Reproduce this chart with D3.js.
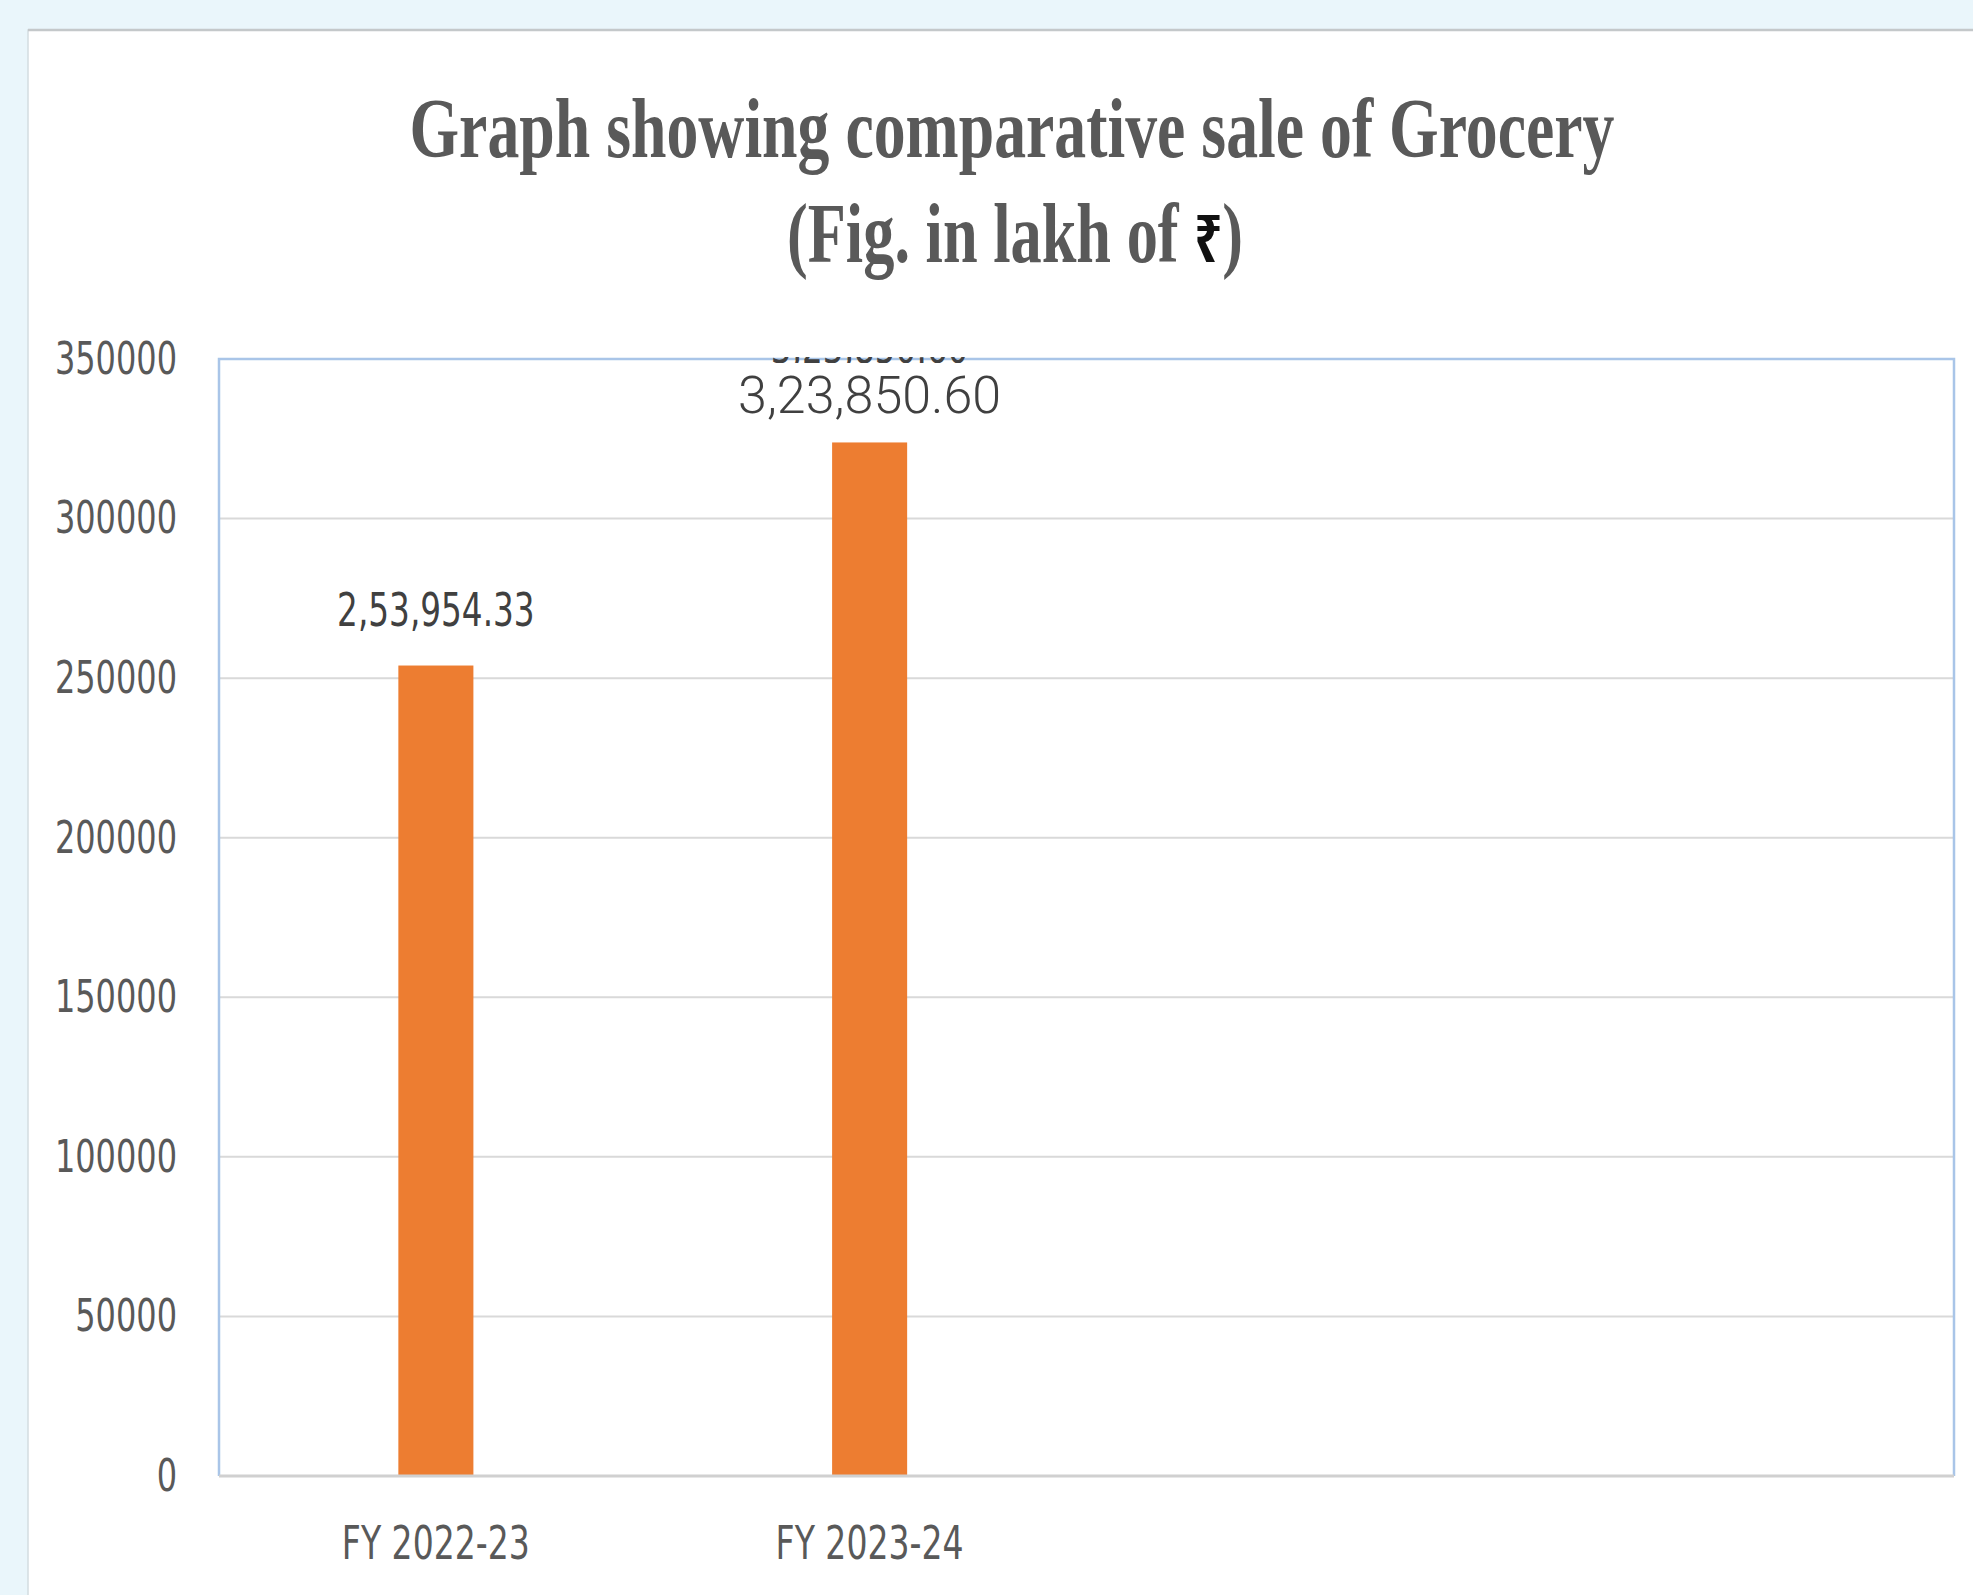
<!DOCTYPE html>
<html>
<head>
<meta charset="utf-8">
<script src="https://cdn.jsdelivr.net/npm/d3@7"></script>
<style>
  html, body { margin: 0; padding: 0; background: #eaf6fb; }
  svg { display: block; }
</style>
</head>
<body>
<svg id="chart" width="1973" height="1595"></svg>
<script>
// ---- data ----
const categories = ["FY 2022-23", "FY 2023-24"];
const sales = [253954.33, 323850.60];          // lakh of ₹
const yTicks = [0, 50000, 100000, 150000, 200000, 250000, 300000, 350000];
const slotCount = 4;                            // category slots on the x axis (two are unused)
const titleLines = ["Graph showing comparative sale of Grocery", "(Fig. in lakh of ", "₹", ")"];

// ---- layout ----
const W = 1973, H = 1595;
const plot = { left: 219, right: 1954, top: 359, bottom: 1476 };
const narrow = "'Liberation Sans Narrow', 'Arial Narrow', 'DejaVu Sans Condensed', sans-serif";

// Indian digit grouping, two decimals: 253954.33 -> 2,53,954.33
function inr(v) {
  const [ip, fp] = v.toFixed(2).split(".");
  let last3 = ip.slice(-3), rest = ip.slice(0, -3);
  if (rest) rest = rest.replace(/\B(?=(\d{2})+(?!\d))/g, ",") + ",";
  return rest + last3 + "." + fp;
}

// horizontally condense text to a fraction of its natural width
function squeeze(sel, factor) {
  sel.each(function () {
    const len = this.getComputedTextLength();
    d3.select(this).attr("textLength", len * factor).attr("lengthAdjust", "spacingAndGlyphs");
  });
}

const svg = d3.select("#chart");

// card panel
svg.append("rect").attr("x", 28).attr("y", 30).attr("width", W).attr("height", H)
  .attr("fill", "#ffffff").attr("stroke", "#d3dde1").attr("stroke-width", 1.5);
svg.append("line").attr("x1", 28).attr("x2", W).attr("y1", 30).attr("y2", 30)
  .attr("stroke", "#c4c8ca").attr("stroke-width", 2.5);

// title
const title = svg.append("g").attr("fill", "#595959")
  .attr("font-family", "'Liberation Serif', 'Times New Roman', serif")
  .attr("font-weight", "bold").attr("font-size", 84).attr("text-anchor", "middle");
title.append("text").attr("x", 1012).attr("y", 157)
  .attr("textLength", 1205).attr("lengthAdjust", "spacingAndGlyphs")
  .text(titleLines[0]);
const t2 = title.append("text").attr("x", 1015).attr("y", 262)
  .attr("textLength", 456).attr("lengthAdjust", "spacingAndGlyphs");
t2.append("tspan").text(titleLines[1]);
t2.append("tspan").attr("font-family", "'Noto Sans', 'DejaVu Sans', sans-serif")
  .attr("font-size", 66).attr("font-weight", "bold").attr("fill", "#111").text(titleLines[2]);
t2.append("tspan").text(titleLines[3]);

// scales
const x = d3.scaleBand().domain(d3.range(slotCount))
  .range([plot.left, plot.right]).paddingInner(0).paddingOuter(0);
const y = d3.scaleLinear().domain([0, 350000]).range([plot.bottom, plot.top]);
const barW = x.bandwidth() * 0.173;

// gridlines
svg.append("g").selectAll("line").data(yTicks.filter(d => d > 0 && d < 350000)).join("line")
  .attr("x1", plot.left).attr("x2", plot.right)
  .attr("y1", d => y(d)).attr("y2", d => y(d))
  .attr("stroke", "#d9d9d9").attr("stroke-width", 2);

// y axis labels
const yAxis = svg.append("g").attr("transform", `translate(${plot.left},0)`)
  .call(d3.axisLeft(y).tickValues(yTicks).tickSize(0).tickPadding(42).tickFormat(d3.format("d")));
yAxis.select(".domain").remove();
yAxis.selectAll("text").attr("font-family", narrow).attr("font-size", 45)
  .attr("fill", "#595959").call(squeeze, 0.79);

// plot frame: light blue left/top/right, grey baseline
svg.append("path")
  .attr("d", `M${plot.left},${plot.bottom}V${plot.top}H${plot.right}V${plot.bottom}`)
  .attr("fill", "none").attr("stroke", "#a9c5e8").attr("stroke-width", 2.5);

// bars
svg.append("g").selectAll("rect").data(sales).join("rect")
  .attr("x", (d, i) => x(i) + x.bandwidth() / 2 - barW / 2)
  .attr("width", barW)
  .attr("y", d => y(d))
  .attr("height", d => y(0) - y(d))
  .attr("fill", "#ed7d31");

svg.append("line").attr("x1", plot.left).attr("x2", plot.right)
  .attr("y1", plot.bottom).attr("y2", plot.bottom)
  .attr("stroke", "#d0d0d0").attr("stroke-width", 3);

// x axis labels
const xAxis = svg.append("g").attr("transform", `translate(0,${plot.bottom})`)
  .call(d3.axisBottom(x).tickSize(0).tickPadding(50).tickFormat(i => categories[i] || ""));
xAxis.select(".domain").remove();
xAxis.selectAll("text").attr("font-family", narrow).attr("font-size", 46)
  .attr("fill", "#595959").call(squeeze, 0.8);

// value labels
const labelStyle = [
  { family: narrow, size: 46, weight: "normal", dy: -40, squeeze: 0.79 },
  { family: "Roboto, 'Open Sans', sans-serif", size: 52, weight: 300, dy: -29, squeeze: 1 }
];
svg.append("g").selectAll("text").data(sales).join("text")
  .attr("x", (d, i) => x(i) + x.bandwidth() / 2)
  .attr("y", (d, i) => y(d) + labelStyle[i].dy)
  .attr("text-anchor", "middle")
  .attr("font-family", (d, i) => labelStyle[i].family)
  .attr("font-size", (d, i) => labelStyle[i].size)
  .attr("font-weight", (d, i) => labelStyle[i].weight)
  .attr("fill", "#404040")
  .text(d => inr(d))
  .each(function (d, i) { if (labelStyle[i].squeeze !== 1) d3.select(this).call(squeeze, labelStyle[i].squeeze); });

// earlier label of the second bar, mostly hidden under the frame edge
svg.append("clipPath").attr("id", "edgeClip")
  .append("rect").attr("x", plot.left).attr("y", plot.top - 2).attr("width", plot.right - plot.left).attr("height", 6);
svg.append("text").attr("clip-path", "url(#edgeClip)")
  .attr("x", x(1) + x.bandwidth() / 2).attr("y", plot.top + 4)
  .attr("text-anchor", "middle").attr("font-family", narrow).attr("font-size", 46)
  .attr("fill", "#404040").text(inr(sales[1])).call(squeeze, 0.79);
</script>
</body>
</html>
